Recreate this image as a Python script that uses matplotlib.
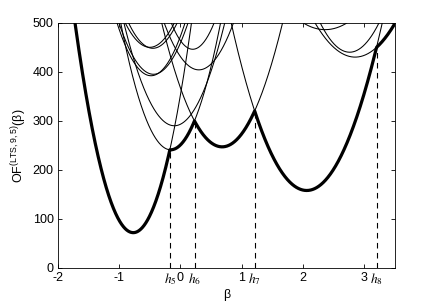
import matplotlib
matplotlib.use("Agg")
import matplotlib.pyplot as plt
import numpy as np

plt.rcParams['font.family'] = ['Liberation Sans', 'DejaVu Sans']
plt.rcParams['axes.unicode_minus'] = False
plt.rcParams['mathtext.fontset'] = 'custom'
plt.rcParams['mathtext.rm'] = 'Liberation Sans'

# parabolas: vertex beta, vertex OF, curvature
vertex_x = [-0.77, -0.16, 0.68, 2.06, 2.85, 2.76, 2.36,
            -0.50, -0.45, -0.48, -0.44, -0.10, 0.20, 0.30]
vertex_y = [72, 241, 247, 158, 430, 440, 486,
            450, 448, 392, 395, 290, 446, 404]
curv = [474, 390, 260, 225, 163, 260, 108,
        310, 330, 350, 330, 310, 440, 300]

h_pos = [-0.17, 0.23, 1.21, 3.2]
h_labels = ['h_5', 'h_6', 'h_7', 'h_8']
xticks = [-2, -1, 0, 1, 2, 3]
yticks = [0, 100, 200, 300, 400, 500]

beta = np.linspace(-2, 3.5, 2000)
curves = [a * (beta - x0) ** 2 + y0 for x0, y0, a in zip(vertex_x, vertex_y, curv)]
envelope = np.min(curves, axis=0)

fig = plt.figure(figsize=(4.35, 3.08), dpi=100)
ax = fig.add_axes([0.133, 0.130, 0.775, 0.796])

for c in curves:
    ax.plot(beta, c, color='black', lw=0.75)
ax.plot(beta, envelope, color='black', lw=2.3)

for h in h_pos:
    top = np.min([a * (h - x0) ** 2 + y0 for x0, y0, a in zip(vertex_x, vertex_y, curv)])
    ax.plot([h, h], [0, top], color='black', lw=0.8, ls=(0, (5, 4)))

ax.set_xlim(-2, 3.5)
ax.set_ylim(0, 500)
ax.set_xticks(xticks)
ax.set_yticks(yticks)
ax.set_xticks(h_pos, minor=True)
ax.set_xticklabels(['$\\mathit{%s}$' % s for s in h_labels], minor=True)
for t in ax.get_xticklabels(minor=True):
    t.set_math_fontfamily('stix')
    t.set_fontsize(9.5)
ax.tick_params(which='major', direction='in', top=True, right=True,
               length=3, width=0.6, labelsize=9, pad=3)
ax.tick_params(which='minor', length=0, pad=2)
for s in ax.spines.values():
    s.set_linewidth(0.6)

ax.set_xlabel('β', fontsize=9, labelpad=2)
ax.set_ylabel('OF$^{\\mathrm{(LTS,9,5)}}$(β)', fontsize=9, labelpad=3)

fig.savefig('out.png', dpi=100)
